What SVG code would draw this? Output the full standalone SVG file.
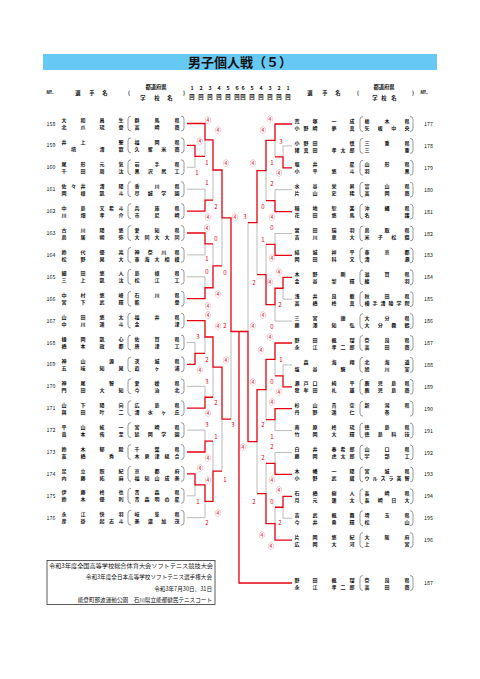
<svg xmlns="http://www.w3.org/2000/svg" width="480" height="679" viewBox="0 0 480 679">
<style>
text{font-family:"Noto Sans CJK JP","Noto Sans",sans-serif;fill:#111}
.n{font-size:5px;text-anchor:middle;font-weight:bold}
.no{font-size:5.3px;text-anchor:middle}
.h{font-size:5.3px;text-anchor:middle;font-weight:bold}
.s{font-size:6px;text-anchor:middle;fill:#e60012}
.g{fill:none;stroke:#aaa;stroke-width:0.8}
.r{fill:none;stroke:#e60012;stroke-width:1.3}
.p{fill:none;stroke:#555;stroke-width:0.6}
.f{font-size:5.6px}
</style>
<defs>
<g id="pL"><path class="p" d="M131-7.5Q128-7.5 128-4.5V4.5Q128 7.5 131 7.5M181-7.5Q184-7.5 184-4.5V4.5Q184 7.5 181 7.5"/></g>
<g id="pR"><path class="p" d="M363-7.5Q360-7.5 360-4.5V4.5Q360 7.5 363 7.5M410-7.5Q413-7.5 413-4.5V4.5Q413 7.5 410 7.5"/></g>
</defs>
<rect width="480" height="679" fill="#fff"/>
<g id="title">
<rect x="43" y="54" width="394" height="16" fill="#66c8f5"/>
<text x="240" y="67" font-size="13" text-anchor="middle" font-weight="bold">男子個人戦（５）</text>
</g>
<g id="header">
<text class="h" x="50" y="94">№.</text>
<text class="h" x="78 92 105" y="95" font-size="6">選手名</text>
<text class="h" x="129" y="95" font-size="8" font-weight="normal">(</text>
<text class="h" x="156" y="89" font-size="5">都道府県</text>
<text class="h" x="143 157 170" y="100" font-size="6">学校名</text>
<text class="h" x="184" y="95" font-size="8" font-weight="normal">)</text>
<text class="h" x="192 201 210 219 228 237 243 252 261 270 279 288" y="89.5" font-size="5">123456654321</text>
<text class="h" x="192 201 210 219 228 237 243 252 261 270 279 288" y="98.5" font-size="5">回回回回回回回回回回回回</text>
<text class="h" x="310 325 338" y="95" font-size="6">選手名</text>
<text class="h" x="358" y="95" font-size="8" font-weight="normal">(</text>
<text class="h" x="384" y="89" font-size="5">都道府県</text>
<text class="h" x="375 384 394" y="100" font-size="6">学校名</text>
<text class="h" x="413" y="95" font-size="8" font-weight="normal">)</text>
<text class="h" x="424" y="94">№.</text>
</g>
<g id="connectors">
<path class="g" d="M187 167.3H195M187 189.2H205M187 254.9H205M187 276.8H205M187 342.5H195M187 386.3H205M187 430.1H205M187 495.8H195M187 517.7H205
M195 156.35V167.3M205 139.9V156.35M205 189.2V200.15M213 170V200.15M205 243.95V254.9M205 276.8V287.75M213 243.95V265.85M222 217.9V265.85M195 342.5V353.45M205 337V353.45M205 386.3V397.25M213 367.1V397.25M205 430.1V441.05M195 484.85V495.8M205 501.3V517.7M213 441.05V471.2M222 419.15V471.2M231 331.5V419.15
M292 145.9H283M292 189.7H275M292 233.5H275M292 299.2H283M292 321.1H275M292 364.9H283M292 430.6H275M292 452.5H275M292 518.2H283
M283 145.9V156.85M275 140.43V156.85M275 189.7V200.65M266 170.54V200.65M275 233.5V244.45M283 288.25V299.2M275 304.68V321.1M266 244.45V274.56M257 222.55V274.56M283 364.9V375.85M275 359.43V375.85M275 419.65V430.6M266 389.54V419.65M275 452.5V463.45M283 507.25V518.2M275 507.25V523.68M266 463.45V493.56M257 441.55V493.56M248 222.55V331.5"/>
<path class="r" d="M187 123.5H205V139.9H213V170H222V217.9H231V331.5H239
M187 145.4H195V156.35H205M187 211.1H205V200.15H213M187 233H205V243.95H213M187 298.7H205V287.75H213V265.85H222
M187 320.6H205V337H213V367.1H222V419.15H231M187 364.4H195V353.45H205M187 408.2H205V397.25H213M187 452H205V441.05H213M187 473.9H195V484.85H205V501.3H213V471.2H222
M292 124H275V140.43H266V170.54H257V222.55H248M292 167.8H283V156.85H275M292 211.6H275V200.65H266M292 255.4H275V244.45H266M292 277.3H283V288.25H275V304.68H266V274.56H257
M292 343H275V359.43H266V389.54H257V441.55H248V331.5H239V583H292M292 386.8H283V375.85H275M292 408.7H275V419.65H266M292 474.4H275V463.45H266M292 496.3H283V507.25H275M292 540.1H275V523.68H266V493.56H257"/>
</g>
<g id="scores">
<text class="s" x="208" y="122">④</text><text class="s" x="218" y="132">④</text><text class="s" x="200" y="143">④</text><text class="s" x="207" y="165">1</text><text class="s" x="197" y="175">1</text><text class="s" x="226" y="165">④</text><text class="s" x="207" y="185">1</text><text class="s" x="216" y="209">2</text><text class="s" x="208" y="219">④</text><text class="s" x="235" y="219">④</text><text class="s" x="207" y="230">④</text><text class="s" x="216" y="241">0</text><text class="s" x="207" y="261">1</text><text class="s" x="207" y="274">0</text><text class="s" x="225" y="275">0</text><text class="s" x="218" y="296">④</text><text class="s" x="208" y="308">④</text><text class="s" x="208" y="317">④</text><text class="s" x="218" y="328">④</text><text class="s" x="225" y="328">2</text><text class="s" x="198" y="339">3</text><text class="s" x="207" y="362">2</text><text class="s" x="226" y="362">④</text><text class="s" x="200" y="372">④</text><text class="s" x="207" y="384">3</text><text class="s" x="216" y="405">2</text><text class="s" x="208" y="415">④</text><text class="s" x="207" y="427">3</text><text class="s" x="233" y="427">3</text><text class="s" x="216" y="439">1</text><text class="s" x="208" y="460">④</text><text class="s" x="200" y="470">④</text><text class="s" x="208" y="482">④</text><text class="s" x="225" y="482">1</text><text class="s" x="198" y="504">1</text><text class="s" x="218" y="515">④</text><text class="s" x="207" y="525">2</text>
<text class="s" x="270" y="121">④</text><text class="s" x="263" y="132">④</text><text class="s" x="281" y="144">3</text><text class="s" x="272" y="165">1</text><text class="s" x="253" y="165">④</text><text class="s" x="279" y="175">④</text><text class="s" x="272" y="186">2</text><text class="s" x="263" y="209">0</text><text class="s" x="272" y="219">④</text><text class="s" x="245" y="219">3</text><text class="s" x="272" y="230">0</text><text class="s" x="263" y="242">1</text><text class="s" x="272" y="260">④</text><text class="s" x="279" y="274">④</text><text class="s" x="270" y="284">④</text><text class="s" x="254" y="285">2</text><text class="s" x="280" y="307">2</text><text class="s" x="263" y="317">④</text><text class="s" x="253" y="328">④</text><text class="s" x="272" y="329">0</text><text class="s" x="270" y="339">④</text><text class="s" x="261" y="352">④</text><text class="s" x="281" y="362">1</text><text class="s" x="253" y="384">④</text><text class="s" x="272" y="384">0</text><text class="s" x="279" y="394">④</text><text class="s" x="272" y="404">④</text><text class="s" x="263" y="427">2</text><text class="s" x="272" y="439">1</text><text class="s" x="243" y="449">④</text><text class="s" x="272" y="449">2</text><text class="s" x="263" y="460">2</text><text class="s" x="272" y="482">④</text><text class="s" x="279" y="492">④</text><text class="s" x="272" y="504">0</text><text class="s" x="254" y="504">2</text><text class="s" x="280" y="525">2</text><text class="s" x="262" y="537">④</text><text class="s" x="271" y="548">④</text>
</g>
<g id="e158" transform="translate(0,123.5)"><text class="no" x="51" y="2">158</text><text class="n" x="64 83 102 121" y="-1.4">大和昌生</text><text class="n" x="64 83 102 121" y="5.6">北爪琉登</text><text class="n" x="137 157 177" y="-1.4">群馬県</text><text class="n" x="137 157 177" y="5.6">高崎商</text><use href="#pL"/></g>
<g id="e159" transform="translate(0,145.4)"><text class="no" x="51" y="2">159</text><text class="n" x="64 83 121" y="-1.4">井上聖</text><text class="n" x="73.5 102 121" y="5.6">境清歆</text><text class="n" x="137 157 177" y="-1.4">福岡県</text><text class="n" x="137 150.3 163.7 177" y="5.6">久留米商</text><use href="#pL"/></g>
<g id="e160" transform="translate(0,167.3)"><text class="no" x="51" y="2">160</text><text class="n" x="64 83 102 121" y="-1.4">尾形元気</text><text class="n" x="64 83 102 121" y="5.6">千田周汰</text><text class="n" x="137 157 177" y="-1.4">岩手県</text><text class="n" x="137 150.3 163.7 177" y="5.6">黒沢尻工</text><use href="#pL"/></g>
<g id="e161" transform="translate(0,189.2)"><text class="no" x="51" y="2">161</text><text class="n" x="64 73.5 83 102 121" y="-1.4">佐々井清陽</text><text class="n" x="64 83 102 121" y="5.6">岡根凱斗</text><text class="n" x="137 157 177" y="-1.4">香川県</text><text class="n" x="137 150.3 163.7 177" y="5.6">尽誠学園</text><use href="#pL"/></g>
<g id="e162" transform="translate(0,211.1)"><text class="no" x="51" y="2">162</text><text class="n" x="64 83 102 111.5 121" y="-1.4">中島文希斗</text><text class="n" x="64 83 102 121" y="5.6">川畑孝介</text><text class="n" x="137 157 177" y="-1.4">兵庫県</text><text class="n" x="137 157 177" y="5.6">市尼崎</text><use href="#pL"/></g>
<g id="e163" transform="translate(0,233)"><text class="no" x="51" y="2">163</text><text class="n" x="64 83 102 121" y="-1.4">古川陽悠</text><text class="n" x="64 83 102 121" y="5.6">鳥居朔弥</text><text class="n" x="137 157 177" y="-1.4">愛知県</text><text class="n" x="137 147 157 167 177" y="5.6">大同大大同</text><use href="#pL"/></g>
<g id="e164" transform="translate(0,254.9)"><text class="no" x="51" y="2">164</text><text class="n" x="64 83 102 121" y="-1.4">鈴代優亮</text><text class="n" x="64 83 102 121" y="5.6">松野晃大</text><text class="n" x="137 150.3 163.7 177" y="-1.4">神奈川県</text><text class="n" x="137 147 157 167 177" y="5.6">東海大相模</text><use href="#pL"/></g>
<g id="e165" transform="translate(0,276.8)"><text class="no" x="51" y="2">165</text><text class="n" x="64 83 102 121" y="-1.4">細田悠人</text><text class="n" x="64 83 102 121" y="5.6">三上凱汰</text><text class="n" x="137 157 177" y="-1.4">島根県</text><text class="n" x="137 157 177" y="5.6">松江工</text><use href="#pL"/></g>
<g id="e166" transform="translate(0,298.7)"><text class="no" x="51" y="2">166</text><text class="n" x="64 83 102 121" y="-1.4">中村悠峰</text><text class="n" x="64 83 102 121" y="5.6">宮下武輝</text><text class="n" x="137 157 177" y="-1.4">石川県</text><text class="n" x="137 177" y="5.6">能登</text><use href="#pL"/></g>
<g id="e167" transform="translate(0,320.6)"><text class="no" x="51" y="2">167</text><text class="n" x="64 83 102 121" y="-1.4">山田悠太</text><text class="n" x="64 83 102 121" y="5.6">中川遥斗</text><text class="n" x="137 157 177" y="-1.4">福井県</text><text class="n" x="137 177" y="5.6">金津</text><use href="#pL"/></g>
<g id="e168" transform="translate(0,342.5)"><text class="no" x="51" y="2">168</text><text class="n" x="64 83 102 121" y="-1.4">樋岡凱心</text><text class="n" x="64 83 102 121" y="5.6">橋本政都</text><text class="n" x="137 157 177" y="-1.4">佐賀県</text><text class="n" x="137 157 177" y="5.6">唐津工</text><use href="#pL"/></g>
<g id="e169" transform="translate(0,364.4)"><text class="no" x="51" y="2">169</text><text class="n" x="64 83 111.5" y="-1.4">神山源</text><text class="n" x="64 83 102 121" y="5.6">五味知晃</text><text class="n" x="137 157 177" y="-1.4">茨城県</text><text class="n" x="137 157 177" y="5.6">霞ヶ浦</text><use href="#pL"/></g>
<g id="e170" transform="translate(0,386.3)"><text class="no" x="51" y="2">170</text><text class="n" x="64 83 111.5" y="-1.4">神尾智</text><text class="n" x="64 83 102 121" y="5.6">門田大知</text><text class="n" x="137 157 177" y="-1.4">愛媛県</text><text class="n" x="137 157 177" y="5.6">今治北</text><use href="#pL"/></g>
<g id="e171" transform="translate(0,408.2)"><text class="no" x="51" y="2">171</text><text class="n" x="64 83 102 121" y="-1.4">山下陽向</text><text class="n" x="64 83 102 121" y="5.6">與田叶二</text><text class="n" x="137 157 177" y="-1.4">広島県</text><text class="n" x="137 150.3 163.7 177" y="5.6">清水ヶ丘</text><use href="#pL"/></g>
<g id="e172" transform="translate(0,430.1)"><text class="no" x="51" y="2">172</text><text class="n" x="64 83 102 121" y="-1.4">平山絃一</text><text class="n" x="64 83 102 121" y="5.6">嵩本侑至</text><text class="n" x="137 157 177" y="-1.4">宮崎県</text><text class="n" x="137 150.3 163.7 177" y="5.6">延岡学園</text><use href="#pL"/></g>
<g id="e173" transform="translate(0,452)"><text class="no" x="51" y="2">173</text><text class="n" x="64 83 102 121" y="-1.4">鈴木郁毅</text><text class="n" x="64 83 111.5" y="5.6">髙橋秀</text><text class="n" x="137 157 177" y="-1.4">千葉県</text><text class="n" x="137 147 157 167 177" y="5.6">木更津総合</text><use href="#pL"/></g>
<g id="e174" transform="translate(0,473.9)"><text class="no" x="51" y="2">174</text><text class="n" x="64 83 102 121" y="-1.4">足立照紀</text><text class="n" x="64 83 102 121" y="5.6">内藤拓麻</text><text class="n" x="137 157 177" y="-1.4">京都府</text><text class="n" x="137 147 157 167 177" y="5.6">福知山成美</text><use href="#pL"/></g>
<g id="e175" transform="translate(0,495.8)"><text class="no" x="51" y="2">175</text><text class="n" x="64 83 102 121" y="-1.4">伊藤柊也</text><text class="n" x="64 83 102 121" y="5.6">鈴木優利</text><text class="n" x="137 157 177" y="-1.4">青森県</text><text class="n" x="137 147 157 167 177" y="5.6">青森明の星</text><use href="#pL"/></g>
<g id="e176" transform="translate(0,517.7)"><text class="no" x="51" y="2">176</text><text class="n" x="64 83 102 121" y="-1.4">永江快羽</text><text class="n" x="64 83 102 111.5 121" y="5.6">彦掛起志斗</text><text class="n" x="137 157 177" y="-1.4">岐阜県</text><text class="n" x="137 150.3 163.7 177" y="5.6">美濃加茂</text><use href="#pL"/></g>
<g id="e177" transform="translate(0,124)"><text class="no" x="428.5" y="2">177</text><text class="n" x="297 315 334 352" y="-1.4">荒塚一成</text><text class="n" x="297 306 315 334 352" y="5.6">小野崎夢真</text><text class="n" x="367 387 407" y="-1.4">栃木県</text><text class="n" x="367 380.3 393.7 407" y="5.6">矢板中央</text><use href="#pR"/></g>
<g id="e178" transform="translate(0,145.9)"><text class="no" x="428.5" y="2">178</text><text class="n" x="297 306 315 352" y="-1.4">小野田慎</text><text class="n" x="297 306 315 334 343 352" y="5.6">猪真田孝太郎</text><text class="n" x="367 387 407" y="-1.4">三重県</text><text class="n" x="367 407" y="5.6">三重</text><use href="#pR"/></g>
<g id="e179" transform="translate(0,167.8)"><text class="no" x="428.5" y="2">179</text><text class="n" x="297 315 352" y="-1.4">堀井星</text><text class="n" x="297 315 334 352" y="5.6">小平悠斗</text><text class="n" x="367 387 407" y="-1.4">山形県</text><text class="n" x="367 407" y="5.6">羽黒</text><use href="#pR"/></g>
<g id="e180" transform="translate(0,189.7)"><text class="no" x="428.5" y="2">180</text><text class="n" x="297 315 334 352" y="-1.4">水谷栄昇</text><text class="n" x="297 315 334 352" y="5.6">片山史稀</text><text class="n" x="367 387 407" y="-1.4">富山県</text><text class="n" x="367 387 407" y="5.6">高岡商</text><use href="#pR"/></g>
<g id="e181" transform="translate(0,211.6)"><text class="no" x="428.5" y="2">181</text><text class="n" x="297 315 334 352" y="-1.4">稲地恕楽</text><text class="n" x="297 315 334 352" y="5.6">花田悠馬</text><text class="n" x="367 387 407" y="-1.4">沖縄県</text><text class="n" x="367 407" y="5.6">名護</text><use href="#pR"/></g>
<g id="e182" transform="translate(0,233.5)"><text class="no" x="428.5" y="2">182</text><text class="n" x="297 315 334 352" y="-1.4">實田瑞羽</text><text class="n" x="297 315 334 352" y="5.6">吉川恵大</text><text class="n" x="367 387 407" y="-1.4">鳥取県</text><text class="n" x="367 380.3 393.7 407" y="5.6">米子松蔭</text><use href="#pR"/></g>
<g id="e183" transform="translate(0,255.4)"><text class="no" x="428.5" y="2">183</text><text class="n" x="297 315 334 352" y="-1.4">結城祥平</text><text class="n" x="297 315 334 352" y="5.6">岡田科文</text><text class="n" x="367 387 407" y="-1.4">東京都</text><text class="n" x="367 407" y="5.6">清瀬</text><use href="#pR"/></g>
<g id="e184" transform="translate(0,277.3)"><text class="no" x="428.5" y="2">184</text><text class="n" x="297 315 343" y="-1.4">木野剛</text><text class="n" x="297 315 334 352" y="5.6">金谷梨輝</text><text class="n" x="367 387 407" y="-1.4">滋賀県</text><text class="n" x="367 407" y="5.6">綾羽</text><use href="#pR"/></g>
<g id="e185" transform="translate(0,299.2)"><text class="no" x="428.5" y="2">185</text><text class="n" x="297 315 334 352" y="-1.4">浅井良載</text><text class="n" x="297 315 334 352" y="5.6">高橋柊真</text><text class="n" x="367 387 407" y="-1.4">秋田県</text><text class="n" x="367 375 383 391 399 407" y="5.6">横手清陵学院</text><use href="#pR"/></g>
<g id="e186" transform="translate(0,321.1)"><text class="no" x="428.5" y="2">186</text><text class="n" x="297 315 343" y="-1.4">三宮蘭</text><text class="n" x="297 315 334 352" y="5.6">藤澤知弘</text><text class="n" x="367 387 407" y="-1.4">大分県</text><text class="n" x="367 380.3 393.7 407" y="5.6">大分舞鶴</text><use href="#pR"/></g>
<g id="e187" transform="translate(0,343)"><text class="no" x="428.5" y="2">187</text><text class="n" x="297 315 334 352" y="-1.4">野田楓瑠</text><text class="n" x="297 315 334 343 352" y="5.6">永江孝二郎</text><text class="n" x="367 387 407" y="-1.4">奈良県</text><text class="n" x="367 387 407" y="5.6">高田商</text><use href="#pR"/></g>
<g id="e188" transform="translate(0,364.9)"><text class="no" x="428.5" y="2">188</text><text class="n" x="306 334 352" y="-1.4">森海翔</text><text class="n" x="297 315 343" y="5.6">塩谷駿</text><text class="n" x="367 387 407" y="-1.4">北海道</text><text class="n" x="367 387 407" y="5.6">旭川実</text><use href="#pR"/></g>
<g id="e189" transform="translate(0,386.8)"><text class="no" x="428.5" y="2">189</text><text class="n" x="297 306 315 334 352" y="-1.4">瀬戸口純平</text><text class="n" x="297 306 315 334 352" y="5.6">發牟田礼雄</text><text class="n" x="367 380.3 393.7 407" y="-1.4">鹿児島県</text><text class="n" x="367 380.3 393.7 407" y="5.6">鹿児島商</text><use href="#pR"/></g>
<g id="e190" transform="translate(0,408.7)"><text class="no" x="428.5" y="2">190</text><text class="n" x="297 315 334 352" y="-1.4">杉山貴空</text><text class="n" x="297 315 334 352" y="5.6">丹野遥仁</text><text class="n" x="367 387 407" y="-1.4">新潟県</text><text class="n" x="387" y="5.6">巻</text><use href="#pR"/></g>
<g id="e191" transform="translate(0,430.6)"><text class="no" x="428.5" y="2">191</text><text class="n" x="297 315 334 352" y="-1.4">南原柊琉</text><text class="n" x="297 315 334 352" y="5.6">竹岡大輝</text><text class="n" x="367 387 407" y="-1.4">徳島県</text><text class="n" x="367 380.3 393.7 407" y="5.6">徳島科技</text><use href="#pR"/></g>
<g id="e192" transform="translate(0,452.5)"><text class="no" x="428.5" y="2">192</text><text class="n" x="297 315 334 343 352" y="-1.4">白井春希郎</text><text class="n" x="297 315 334 343 352" y="5.6">藤岡虎太郎</text><text class="n" x="367 387 407" y="-1.4">山口県</text><text class="n" x="367 387 407" y="5.6">宇部工</text><use href="#pR"/></g>
<g id="e193" transform="translate(0,474.4)"><text class="no" x="428.5" y="2">193</text><text class="n" x="297 315 334 352" y="-1.4">木幡一陽</text><text class="n" x="297 315 334 352" y="5.6">小野武蔵</text><text class="n" x="367 387 407" y="-1.4">宮城県</text><text class="n" x="367 375 383 391 399 407" y="5.6">ウルスラ英智</text><use href="#pR"/></g>
<g id="e194" transform="translate(0,496.3)"><text class="no" x="428.5" y="2">194</text><text class="n" x="297 315 334 352" y="-1.4">石橋樹人</text><text class="n" x="297 315 334 352" y="5.6">月元蓮太</text><text class="n" x="367 387 407" y="-1.4">長崎県</text><text class="n" x="367 380.3 393.7 407" y="5.6">長崎日大</text><use href="#pR"/></g>
<g id="e195" transform="translate(0,518.2)"><text class="no" x="428.5" y="2">195</text><text class="n" x="297 315 334 352" y="-1.4">吉武楓舞</text><text class="n" x="297 315 334 352" y="5.6">今井勇輝</text><text class="n" x="367 387 407" y="-1.4">埼玉県</text><text class="n" x="367 407" y="5.6">松山</text><use href="#pR"/></g>
<g id="e196" transform="translate(0,540.1)"><text class="no" x="428.5" y="2">196</text><text class="n" x="297 315 334 352" y="-1.4">片岡悠紀</text><text class="n" x="297 315 334 352" y="5.6">広岡大河</text><text class="n" x="367 387 407" y="-1.4">大阪府</text><text class="n" x="367 407" y="5.6">上宮</text><use href="#pR"/></g>
<g id="champion" transform="translate(0,583)"><text class="no" x="428.5" y="2">187</text><text class="n" x="297 315 334 352" y="-1.4">野田楓瑠</text><text class="n" x="297 315 334 343 352" y="5.6">永江孝二郎</text><text class="n" x="367 387 407" y="-1.4">奈良県</text><text class="n" x="367 387 407" y="5.6">高田商</text><use href="#pR"/></g>
<g id="footer">
<rect x="47" y="560.5" width="168" height="44" fill="none" stroke="#333" stroke-width="0.8"/>
<text class="f" x="49" y="567.5" textLength="164" lengthAdjust="spacingAndGlyphs">令和3年度全国高等学校総合体育大会ソフトテニス競技大会</text>
<text class="f" x="212" y="579" text-anchor="end">令和3年度全日本高等学校ソフトテニス選手権大会</text>
<text class="f" x="212" y="590.5" text-anchor="end">令和3年7月30日、31日</text>
<text class="f" x="212" y="602" text-anchor="end">能登町那波運動公園　石川県立能都健民テニスコート</text>
</g>
</svg>
